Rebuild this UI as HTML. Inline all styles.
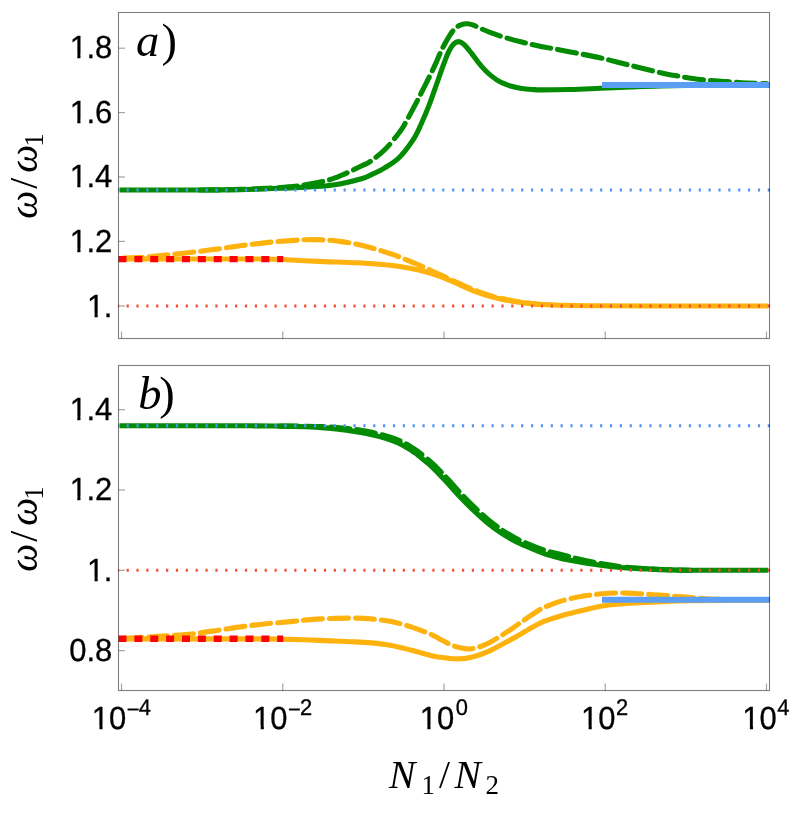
<!DOCTYPE html>
<html><head><meta charset="utf-8"><title>plot</title>
<style>html,body{margin:0;padding:0;background:#fff;}body{width:789px;height:814px;position:relative;overflow:hidden;font-family:"Liberation Sans",sans-serif;}</style>
</head><body>
<svg width="789" height="814" viewBox="0 0 789 814" style="position:absolute;left:0;top:0;will-change:transform">
<defs><clipPath id="ca"><rect x="118" y="12.5" width="652" height="326"/></clipPath><clipPath id="cb"><rect x="118" y="365.5" width="652" height="325"/></clipPath><clipPath id="cc"><rect x="119.5" y="0" width="648.8" height="814"/></clipPath></defs>
<g clip-path="url(#ca)">
<g clip-path="url(#cc)">
<path d="M118.50,190.00 C132.08,190.00 179.75,190.07 200.00,190.00 C220.25,189.93 230.00,189.77 240.00,189.60 C250.00,189.43 253.33,189.22 260.00,189.00 C266.67,188.78 273.23,188.57 280.00,188.30 C286.77,188.03 293.10,187.78 300.60,187.40 C308.10,187.02 318.27,186.62 325.00,186.00 C331.73,185.38 334.93,184.92 341.00,183.70 C347.07,182.48 356.57,180.10 361.40,178.70 C366.23,177.30 366.12,177.12 370.00,175.30 C373.88,173.48 379.78,170.82 384.70,167.80 C389.62,164.78 394.58,162.15 399.50,157.20 C404.42,152.25 410.53,143.75 414.20,138.10 C417.87,132.45 419.05,128.70 421.50,123.30 C423.95,117.90 426.43,112.08 428.90,105.70 C431.37,99.32 433.85,91.88 436.30,85.00 C438.75,78.12 441.53,69.97 443.60,64.40 C445.67,58.83 447.00,55.02 448.70,51.60 C450.40,48.18 452.12,45.57 453.80,43.90 C455.48,42.23 457.12,41.53 458.80,41.60 C460.48,41.67 461.87,42.47 463.90,44.30 C465.93,46.13 468.13,49.02 471.00,52.60 C473.87,56.18 477.72,61.92 481.10,65.80 C484.48,69.68 487.92,73.10 491.30,75.90 C494.68,78.70 498.02,80.87 501.40,82.60 C504.78,84.33 508.22,85.32 511.60,86.30 C514.98,87.28 518.33,87.97 521.70,88.50 C525.07,89.03 528.42,89.27 531.80,89.50 C535.18,89.73 535.63,89.90 542.00,89.90 C548.37,89.90 560.33,89.77 570.00,89.50 C579.67,89.23 589.83,88.72 600.00,88.30 C610.17,87.88 621.00,87.38 631.00,87.00 C641.00,86.62 648.50,86.27 660.00,86.00 C671.50,85.73 686.67,85.55 700.00,85.40 C713.33,85.25 728.42,85.17 740.00,85.10 C751.58,85.03 764.58,85.02 769.50,85.00" fill="none" stroke="#038b03" stroke-width="5.10" stroke-linejoin="round"/>
<path d="M200.00,190.00 C217.75,189.97 216.67,189.95 225.00,189.80 C233.33,189.65 241.67,189.42 250.00,189.10 C258.33,188.78 266.57,188.50 275.00,187.90 C283.43,187.30 292.27,186.65 300.60,185.50 C308.93,184.35 318.27,182.67 325.00,181.00 C331.73,179.33 334.93,178.00 341.00,175.50 C347.07,173.00 356.57,168.32 361.40,166.00 C366.23,163.68 366.12,164.30 370.00,161.60 C373.88,158.90 379.78,154.70 384.70,149.80 C389.62,144.90 395.82,137.10 399.50,132.20 C403.18,127.30 404.27,124.82 406.80,120.40 C409.33,115.98 412.12,110.62 414.70,105.70 C417.28,100.78 419.75,95.93 422.30,90.90 C424.85,85.87 427.72,80.17 430.00,75.50 C432.28,70.83 434.03,67.22 436.00,62.90 C437.97,58.58 439.53,54.15 441.80,49.60 C444.07,45.05 447.33,39.17 449.60,35.60 C451.87,32.03 453.40,30.03 455.40,28.20 C457.40,26.37 459.60,25.33 461.60,24.60 C463.60,23.87 465.43,23.70 467.40,23.80 C469.37,23.90 471.12,24.38 473.40,25.20 C475.68,26.02 478.12,27.42 481.10,28.70 C484.08,29.98 487.92,31.62 491.30,32.90 C494.68,34.18 498.02,35.32 501.40,36.40 C504.78,37.48 508.22,38.47 511.60,39.40 C514.98,40.33 518.33,41.15 521.70,42.00 C525.07,42.85 528.42,43.72 531.80,44.50 C535.18,45.28 538.62,46.05 542.00,46.70 C545.38,47.35 547.37,47.53 552.10,48.40 C556.83,49.27 562.28,50.30 570.40,51.90 C578.52,53.50 590.65,55.72 600.80,58.00 C610.95,60.28 621.15,63.10 631.30,65.60 C641.45,68.10 654.18,71.30 661.70,73.00 C669.22,74.70 671.23,74.87 676.40,75.80 C681.57,76.73 687.27,77.83 692.70,78.60 C698.13,79.37 703.55,79.90 709.00,80.40 C714.45,80.90 719.95,81.22 725.40,81.60 C730.85,81.98 736.27,82.38 741.70,82.70 C747.13,83.02 753.37,83.32 758.00,83.50 C762.63,83.68 767.58,83.75 769.50,83.80" fill="none" stroke="#038b03" stroke-width="5.10" stroke-dasharray="19 7" stroke-dashoffset="25.80" stroke-linecap="round" stroke-linejoin="round"/>
<path d="M118.50,259.00 C132.08,259.00 176.42,259.00 200.00,259.00 C223.58,259.00 246.90,258.95 260.00,259.00 C273.10,259.05 271.93,259.05 278.60,259.30 C285.27,259.55 292.40,260.12 300.00,260.50 C307.60,260.88 314.47,261.22 324.20,261.60 C333.93,261.98 346.98,262.15 358.40,262.80 C369.82,263.45 384.10,264.60 392.70,265.50 C401.30,266.40 405.40,267.38 410.00,268.20 C414.60,269.02 416.97,269.60 420.30,270.40 C423.63,271.20 426.62,271.97 430.00,273.00 C433.38,274.03 437.27,275.35 440.60,276.60 C443.93,277.85 446.62,279.03 450.00,280.50 C453.38,281.97 457.57,283.93 460.90,285.40 C464.23,286.87 466.63,287.93 470.00,289.30 C473.37,290.67 477.60,292.38 481.10,293.60 C484.60,294.82 487.62,295.67 491.00,296.60 C494.38,297.53 497.82,298.43 501.40,299.20 C504.98,299.97 509.12,300.63 512.50,301.20 C515.88,301.77 518.45,302.18 521.70,302.60 C524.95,303.02 528.62,303.38 532.00,303.70 C535.38,304.02 537.33,304.25 542.00,304.50 C546.67,304.75 550.33,304.98 560.00,305.20 C569.67,305.42 576.67,305.67 600.00,305.80 C623.33,305.93 671.75,305.97 700.00,306.00 C728.25,306.03 757.92,306.00 769.50,306.00" fill="none" stroke="#feb20e" stroke-width="5.10" stroke-linejoin="round"/>
<path d="M118.50,258.30 C123.08,258.08 137.38,257.62 146.00,257.00 C154.62,256.38 162.15,255.43 170.20,254.60 C178.25,253.77 186.27,252.95 194.30,252.00 C202.33,251.05 210.38,249.98 218.40,248.90 C226.42,247.82 234.38,246.55 242.40,245.50 C250.42,244.45 258.47,243.42 266.50,242.60 C274.53,241.78 283.83,241.08 290.60,240.60 C297.37,240.12 301.50,239.82 307.10,239.70 C312.70,239.58 318.50,239.58 324.20,239.90 C329.90,240.22 335.60,240.82 341.30,241.60 C347.00,242.38 352.68,243.35 358.40,244.60 C364.12,245.85 369.88,247.47 375.60,249.10 C381.32,250.73 388.63,253.05 392.70,254.40 C396.77,255.75 397.10,256.05 400.00,257.20 C402.90,258.35 406.72,259.90 410.10,261.30 C413.48,262.70 416.92,264.12 420.30,265.60 C423.68,267.08 427.02,268.65 430.40,270.20 C433.78,271.75 437.22,273.33 440.60,274.90 C443.98,276.47 447.32,278.05 450.70,279.60 C454.08,281.15 457.68,282.77 460.90,284.20 C464.12,285.63 466.63,286.78 470.00,288.20 C473.37,289.62 477.60,291.42 481.10,292.70 C484.60,293.98 487.62,294.93 491.00,295.90 C494.38,296.87 497.82,297.68 501.40,298.50 C504.98,299.32 509.12,300.17 512.50,300.80 C515.88,301.43 518.45,301.85 521.70,302.30 C524.95,302.75 528.62,303.15 532.00,303.50 C535.38,303.85 537.33,304.12 542.00,304.40" fill="none" stroke="#feb20e" stroke-width="5.10" stroke-dasharray="19 7" stroke-dashoffset="21.50" stroke-linecap="round" stroke-linejoin="round"/>
</g>
<line x1="118.5" y1="259.15" x2="283.2" y2="259.15" stroke="#fd0202" stroke-width="6.3" stroke-dasharray="8 7.87"/>
<line x1="602" y1="85" x2="770" y2="85" stroke="#5b9ef5" stroke-width="6"/>
<line x1="116.70" y1="190.00" x2="770.00" y2="190.00" stroke="#4f94f5" stroke-width="3" stroke-dasharray="2.2 7.664"/>
<line x1="116.70" y1="306.00" x2="770.00" y2="306.00" stroke="#fb4a32" stroke-width="3" stroke-dasharray="2.2 7.664"/>
</g>
<g clip-path="url(#cb)">
<g clip-path="url(#cc)">
<path d="M118.50,425.70 C132.08,425.70 178.08,425.68 200.00,425.70 C221.92,425.72 236.67,425.73 250.00,425.80 C263.33,425.87 270.78,425.93 280.00,426.10 C289.22,426.27 297.80,426.51 305.29,426.81 C312.79,427.11 319.19,427.48 324.96,427.91 C330.73,428.35 335.32,428.91 339.91,429.44 C344.51,429.97 348.36,430.47 352.56,431.11 C356.75,431.75 360.90,432.44 365.09,433.28 C369.28,434.12 373.51,435.04 377.71,436.14 C381.91,437.24 386.10,438.38 390.28,439.89 C394.46,441.40 398.63,443.01 402.78,445.19 C406.94,447.38 412.50,451.18 415.22,452.99 C417.94,454.80 417.00,454.34 419.09,456.03 C421.18,457.72 425.53,461.20 427.76,463.10 C429.99,465.01 430.62,465.62 432.49,467.44 C434.36,469.26 436.72,471.70 438.96,474.01 C441.20,476.32 442.52,477.59 445.93,481.28 C449.35,484.98 454.92,491.42 459.45,496.20 C463.97,500.97 468.56,505.61 473.10,509.95 C477.64,514.29 482.14,518.48 486.68,522.22 C491.21,525.96 495.75,529.34 500.29,532.40 C504.83,535.46 510.24,538.55 513.90,540.57 C517.56,542.59 517.29,542.40 522.23,544.54 C527.18,546.67 537.21,551.11 543.56,553.38 C549.91,555.65 554.98,556.85 560.34,558.15 C565.69,559.46 569.31,560.07 575.71,561.20 C582.12,562.32 591.39,563.88 598.77,564.92 C606.14,565.96 613.02,566.81 619.96,567.42 C626.89,568.03 632.77,568.22 640.39,568.60 C648.02,568.98 657.28,569.43 665.70,569.70 C674.12,569.97 673.60,570.10 690.90,570.20 C708.20,570.30 756.40,570.28 769.50,570.30" fill="none" stroke="#038b03" stroke-width="5.10" stroke-linejoin="round"/>
<path d="M280.00,426.10 C289.22,426.16 297.80,426.09 305.31,426.19 C312.81,426.29 319.24,426.42 325.04,426.69 C330.83,426.95 335.45,427.36 340.09,427.76 C344.72,428.16 348.61,428.53 352.84,429.09 C357.08,429.65 361.27,430.33 365.51,431.12 C369.75,431.92 374.02,432.79 378.29,433.86 C382.56,434.92 386.83,436.02 391.12,437.51 C395.41,439.00 399.74,440.62 404.02,442.81 C408.29,444.99 413.97,448.78 416.78,450.61 C419.60,452.44 418.76,452.06 420.91,453.77 C423.05,455.48 427.37,458.96 429.64,460.90 C431.91,462.83 432.61,463.51 434.51,465.36 C436.41,467.21 438.78,469.66 441.04,471.99 C443.30,474.32 444.65,475.61 448.07,479.32 C451.48,483.02 457.05,489.45 461.55,494.20 C466.06,498.96 470.61,503.56 475.10,507.85 C479.60,512.15 484.06,516.29 488.52,519.98 C492.99,523.67 497.45,526.99 501.91,530.00 C506.37,533.01 511.73,536.05 515.30,538.03 C518.88,540.01 518.48,539.83 523.37,541.86 C528.26,543.90 538.33,548.13 544.64,550.22 C550.96,552.32 555.99,553.08 561.26,554.45 C566.54,555.81 569.99,556.93 576.29,558.40 C582.58,559.88 591.74,561.92 599.03,563.28 C606.33,564.64 613.15,565.73 620.04,566.58 C626.94,567.43 632.80,567.88 640.41,568.40 C648.02,568.92 657.28,569.40 665.70,569.70 C674.12,570.00 673.60,570.10 690.90,570.20" fill="none" stroke="#038b03" stroke-width="5.10" stroke-dasharray="19 7" stroke-dashoffset="1.20" stroke-linecap="round" stroke-linejoin="round"/>
<path d="M118.50,638.90 C132.08,638.90 175.42,638.90 200.00,638.90 C224.58,638.90 251.00,638.82 266.00,638.90 C281.00,638.98 282.62,639.22 290.00,639.40 C297.38,639.58 303.53,639.75 310.30,640.00 C317.07,640.25 323.83,640.62 330.60,640.90 C337.37,641.18 344.15,641.37 350.90,641.70 C357.65,642.03 364.35,642.27 371.10,642.90 C377.85,643.53 384.63,644.27 391.40,645.50 C398.17,646.73 404.93,648.58 411.70,650.30 C418.47,652.02 427.28,654.65 432.00,655.80 C436.72,656.95 436.98,656.75 440.00,657.20 C443.02,657.65 446.72,658.23 450.10,658.50 C453.48,658.77 456.92,658.97 460.30,658.80 C463.68,658.63 467.02,658.22 470.40,657.50 C473.78,656.78 477.22,655.68 480.60,654.50 C483.98,653.32 487.32,651.97 490.70,650.40 C494.08,648.83 497.52,646.90 500.90,645.10 C504.28,643.30 508.15,641.18 511.00,639.60 C513.85,638.02 515.67,636.95 518.00,635.60 C520.33,634.25 522.78,632.80 525.00,631.50 C527.22,630.20 529.17,629.02 531.30,627.80 C533.43,626.58 535.70,625.28 537.80,624.20 C539.90,623.12 541.37,622.28 543.90,621.30 C546.43,620.32 550.22,619.18 553.00,618.30 C555.78,617.42 558.07,616.75 560.60,616.00 C563.13,615.25 565.80,614.45 568.20,613.80 C570.60,613.15 572.70,612.65 575.00,612.10 C577.30,611.55 579.43,611.10 582.00,610.50 C584.57,609.90 587.30,609.20 590.40,608.50 C593.50,607.80 597.22,606.92 600.60,606.30 C603.98,605.68 607.32,605.20 610.70,604.80 C614.08,604.40 617.52,604.17 620.90,603.90 C624.28,603.63 627.75,603.40 631.00,603.20 C634.25,603.00 634.62,602.98 640.40,602.70 C646.18,602.42 657.28,601.82 665.70,601.50 C674.12,601.18 673.60,601.00 690.90,600.80 C708.20,600.60 756.40,600.38 769.50,600.30" fill="none" stroke="#feb20e" stroke-width="5.10" stroke-linejoin="round"/>
<path d="M118.50,638.40 C123.10,638.20 137.48,637.65 146.10,637.20 C154.72,636.75 162.17,636.30 170.20,635.70 C178.23,635.10 186.27,634.52 194.30,633.60 C202.33,632.68 210.38,631.37 218.40,630.20 C226.42,629.03 234.38,627.68 242.40,626.60 C250.42,625.52 258.47,624.53 266.50,623.70 C274.53,622.87 283.30,622.28 290.60,621.60 C297.90,620.92 303.63,620.12 310.30,619.60 C316.97,619.08 323.83,618.75 330.60,618.50 C337.37,618.25 344.15,618.03 350.90,618.10 C357.65,618.17 364.35,618.32 371.10,618.90 C377.85,619.48 384.63,620.23 391.40,621.60 C398.17,622.97 404.93,624.90 411.70,627.10 C418.47,629.30 427.28,632.78 432.00,634.80 C436.72,636.82 436.98,637.62 440.00,639.20 C443.02,640.78 446.72,642.87 450.10,644.30 C453.48,645.73 456.92,647.03 460.30,647.80 C463.68,648.57 467.02,649.12 470.40,648.90 C473.78,648.68 477.22,647.67 480.60,646.50 C483.98,645.33 487.32,643.68 490.70,641.90 C494.08,640.12 497.52,637.90 500.90,635.80 C504.28,633.70 507.63,631.57 511.00,629.30 C514.37,627.03 517.72,624.57 521.10,622.20 C524.48,619.83 527.92,617.33 531.30,615.10 C534.68,612.87 538.02,610.60 541.40,608.80 C544.78,607.00 548.22,605.62 551.60,604.30 C554.98,602.98 558.33,601.90 561.70,600.90 C565.07,599.90 568.42,599.08 571.80,598.30 C575.18,597.52 578.62,596.77 582.00,596.20 C585.38,595.63 588.67,595.32 592.10,594.90 C595.53,594.48 598.75,594.02 602.60,593.70 C606.45,593.38 611.00,593.10 615.20,593.00 C619.40,592.90 623.60,592.97 627.80,593.10 C632.00,593.23 636.20,593.53 640.40,593.80 C644.60,594.07 648.78,594.42 653.00,594.70 C657.22,594.98 661.48,595.20 665.70,595.50 C669.92,595.80 674.10,596.15 678.30,596.50 C682.50,596.85 687.28,597.28 690.90,597.60 C694.52,597.92 695.98,598.12 700.00,598.40 C704.02,598.68 708.33,599.08 715.00,599.30 C721.67,599.52 730.92,599.60 740.00,599.70 C749.08,599.80 764.58,599.87 769.50,599.90" fill="none" stroke="#feb20e" stroke-width="5.10" stroke-dasharray="19 7" stroke-dashoffset="22.00" stroke-linecap="round" stroke-linejoin="round"/>
</g>
<line x1="118.5" y1="638.75" x2="283.2" y2="638.75" stroke="#fd0202" stroke-width="6.3" stroke-dasharray="8 7.87"/>
<line x1="602" y1="599.8" x2="770" y2="599.8" stroke="#5b9ef5" stroke-width="6"/>
<line x1="116.70" y1="425.70" x2="770.00" y2="425.70" stroke="#4f94f5" stroke-width="3" stroke-dasharray="2.2 7.664"/>
<line x1="116.70" y1="570.30" x2="770.00" y2="570.30" stroke="#fb4a32" stroke-width="3" stroke-dasharray="2.2 7.664"/>
</g>
<line x1="121.50" y1="338.50" x2="121.50" y2="331.50" stroke="#a4a4a4" stroke-width="1.2"/>
<line x1="121.50" y1="690.50" x2="121.50" y2="683.50" stroke="#a4a4a4" stroke-width="1.2"/>
<line x1="282.75" y1="338.50" x2="282.75" y2="331.50" stroke="#a4a4a4" stroke-width="1.2"/>
<line x1="282.75" y1="690.50" x2="282.75" y2="683.50" stroke="#a4a4a4" stroke-width="1.2"/>
<line x1="444.00" y1="338.50" x2="444.00" y2="331.50" stroke="#a4a4a4" stroke-width="1.2"/>
<line x1="444.00" y1="690.50" x2="444.00" y2="683.50" stroke="#a4a4a4" stroke-width="1.2"/>
<line x1="605.25" y1="338.50" x2="605.25" y2="331.50" stroke="#a4a4a4" stroke-width="1.2"/>
<line x1="605.25" y1="690.50" x2="605.25" y2="683.50" stroke="#a4a4a4" stroke-width="1.2"/>
<line x1="766.50" y1="338.50" x2="766.50" y2="331.50" stroke="#a4a4a4" stroke-width="1.2"/>
<line x1="766.50" y1="690.50" x2="766.50" y2="683.50" stroke="#a4a4a4" stroke-width="1.2"/>
<line x1="118.50" y1="48.20" x2="125.00" y2="48.20" stroke="#a4a4a4" stroke-width="1.2"/>
<line x1="118.50" y1="112.60" x2="125.00" y2="112.60" stroke="#a4a4a4" stroke-width="1.2"/>
<line x1="118.50" y1="177.00" x2="125.00" y2="177.00" stroke="#a4a4a4" stroke-width="1.2"/>
<line x1="118.50" y1="241.40" x2="125.00" y2="241.40" stroke="#a4a4a4" stroke-width="1.2"/>
<line x1="118.50" y1="306.00" x2="125.00" y2="306.00" stroke="#a4a4a4" stroke-width="1.2"/>
<line x1="118.50" y1="409.70" x2="125.00" y2="409.70" stroke="#a4a4a4" stroke-width="1.2"/>
<line x1="118.50" y1="490.00" x2="125.00" y2="490.00" stroke="#a4a4a4" stroke-width="1.2"/>
<line x1="118.50" y1="570.30" x2="125.00" y2="570.30" stroke="#a4a4a4" stroke-width="1.2"/>
<line x1="118.50" y1="650.60" x2="125.00" y2="650.60" stroke="#a4a4a4" stroke-width="1.2"/>
<rect x="118.5" y="12.5" width="651.0" height="326.0" fill="none" stroke="#000" stroke-opacity="0.5" stroke-width="1.1"/>
<rect x="118.5" y="365.5" width="651.0" height="325.0" fill="none" stroke="#000" stroke-opacity="0.5" stroke-width="1.1"/>
<text transform="translate(69.20,58.00) scale(1,1.031)" font-family="Liberation Sans, sans-serif" text-rendering="geometricPrecision" stroke="#000" stroke-width="0.3" font-size="31" fill="#000"><tspan dx="0.5">1</tspan><tspan dx="-0.5">.8</tspan></text>
<rect x="70.30" y="54.52" width="7.00" height="4.88" fill="#fff"/><rect x="80.48" y="54.52" width="5.97" height="4.88" fill="#fff"/>
<text transform="translate(69.20,123.00) scale(1,1.031)" font-family="Liberation Sans, sans-serif" text-rendering="geometricPrecision" stroke="#000" stroke-width="0.3" font-size="31" fill="#000"><tspan dx="0.5">1</tspan><tspan dx="-0.5">.6</tspan></text>
<rect x="70.30" y="119.52" width="7.00" height="4.88" fill="#fff"/><rect x="80.48" y="119.52" width="5.97" height="4.88" fill="#fff"/>
<text transform="translate(69.20,187.00) scale(1,1.031)" font-family="Liberation Sans, sans-serif" text-rendering="geometricPrecision" stroke="#000" stroke-width="0.3" font-size="31" fill="#000"><tspan dx="0.5">1</tspan><tspan dx="-0.5">.4</tspan></text>
<rect x="70.30" y="183.52" width="7.00" height="4.88" fill="#fff"/><rect x="80.48" y="183.52" width="5.97" height="4.88" fill="#fff"/>
<text transform="translate(69.20,252.00) scale(1,1.031)" font-family="Liberation Sans, sans-serif" text-rendering="geometricPrecision" stroke="#000" stroke-width="0.3" font-size="31" fill="#000"><tspan dx="0.5">1</tspan><tspan dx="-0.5">.2</tspan></text>
<rect x="70.30" y="248.52" width="7.00" height="4.88" fill="#fff"/><rect x="80.48" y="248.52" width="5.97" height="4.88" fill="#fff"/>
<text transform="translate(86.44,317.00) scale(1,1.031)" font-family="Liberation Sans, sans-serif" text-rendering="geometricPrecision" stroke="#000" stroke-width="0.3" font-size="31" fill="#000"><tspan dx="0.5">1</tspan><tspan dx="-0.5">.</tspan></text>
<rect x="87.54" y="313.52" width="7.00" height="4.88" fill="#fff"/><rect x="97.72" y="313.52" width="5.97" height="4.88" fill="#fff"/>
<text transform="translate(69.20,420.00) scale(1,1.031)" font-family="Liberation Sans, sans-serif" text-rendering="geometricPrecision" stroke="#000" stroke-width="0.3" font-size="31" fill="#000"><tspan dx="0.5">1</tspan><tspan dx="-0.5">.4</tspan></text>
<rect x="70.30" y="416.52" width="7.00" height="4.88" fill="#fff"/><rect x="80.48" y="416.52" width="5.97" height="4.88" fill="#fff"/>
<text transform="translate(69.20,500.00) scale(1,1.031)" font-family="Liberation Sans, sans-serif" text-rendering="geometricPrecision" stroke="#000" stroke-width="0.3" font-size="31" fill="#000"><tspan dx="0.5">1</tspan><tspan dx="-0.5">.2</tspan></text>
<rect x="70.30" y="496.52" width="7.00" height="4.88" fill="#fff"/><rect x="80.48" y="496.52" width="5.97" height="4.88" fill="#fff"/>
<text transform="translate(86.44,581.00) scale(1,1.031)" font-family="Liberation Sans, sans-serif" text-rendering="geometricPrecision" stroke="#000" stroke-width="0.3" font-size="31" fill="#000"><tspan dx="0.5">1</tspan><tspan dx="-0.5">.</tspan></text>
<rect x="87.54" y="577.52" width="7.00" height="4.88" fill="#fff"/><rect x="97.72" y="577.52" width="5.97" height="4.88" fill="#fff"/>
<text transform="translate(69.20,661.00) scale(1,1.031)" font-family="Liberation Sans, sans-serif" text-rendering="geometricPrecision" stroke="#000" stroke-width="0.3" font-size="31" fill="#000">0.8</text>
<text transform="translate(91.82,729.00) scale(1,1.031)" font-family="Liberation Sans, sans-serif" text-rendering="geometricPrecision" stroke="#000" stroke-width="0.3" font-size="31" fill="#000"><tspan x="0" y="0">10</tspan><tspan x="34.9" y="-11.54" font-size="21.9">−</tspan><tspan x="46.95" y="-13.77" font-size="21.9">4</tspan></text>
<rect x="92.42" y="725.52" width="7.00" height="4.88" fill="#fff"/><rect x="102.60" y="725.52" width="5.97" height="4.88" fill="#fff"/>
<text transform="translate(253.08,729.00) scale(1,1.031)" font-family="Liberation Sans, sans-serif" text-rendering="geometricPrecision" stroke="#000" stroke-width="0.3" font-size="31" fill="#000"><tspan x="0" y="0">10</tspan><tspan x="34.9" y="-11.54" font-size="21.9">−</tspan><tspan x="46.95" y="-13.77" font-size="21.9">2</tspan></text>
<rect x="253.68" y="725.52" width="7.00" height="4.88" fill="#fff"/><rect x="263.86" y="725.52" width="5.97" height="4.88" fill="#fff"/>
<text transform="translate(419.75,729.00) scale(1,1.031)" font-family="Liberation Sans, sans-serif" text-rendering="geometricPrecision" stroke="#000" stroke-width="0.3" font-size="31" fill="#000"><tspan x="0" y="0">10</tspan><tspan x="35.90" y="-13.77" font-size="21.9">0</tspan></text>
<rect x="420.35" y="725.52" width="7.00" height="4.88" fill="#fff"/><rect x="430.53" y="725.52" width="5.97" height="4.88" fill="#fff"/>
<text transform="translate(581.00,729.00) scale(1,1.031)" font-family="Liberation Sans, sans-serif" text-rendering="geometricPrecision" stroke="#000" stroke-width="0.3" font-size="31" fill="#000"><tspan x="0" y="0">10</tspan><tspan x="35.00" y="-13.77" font-size="21.9">2</tspan></text>
<rect x="581.60" y="725.52" width="7.00" height="4.88" fill="#fff"/><rect x="591.78" y="725.52" width="5.97" height="4.88" fill="#fff"/>
<text transform="translate(742.25,729.00) scale(1,1.031)" font-family="Liberation Sans, sans-serif" text-rendering="geometricPrecision" stroke="#000" stroke-width="0.3" font-size="31" fill="#000"><tspan x="0" y="0">10</tspan><tspan x="35.00" y="-13.77" font-size="21.9">4</tspan></text>
<rect x="742.85" y="725.52" width="7.00" height="4.88" fill="#fff"/><rect x="753.03" y="725.52" width="5.97" height="4.88" fill="#fff"/>
<text font-family="'Liberation Serif', serif" font-size="46.5" fill="#000"><tspan x="136.05" y="56.2" font-style="italic">a</tspan><tspan x="161.5" y="56.2">)</tspan></text>
<text font-family="'Liberation Serif', serif" font-size="46.5" fill="#000"><tspan x="138.3" y="409" font-style="italic">b</tspan><tspan x="159.3" y="409">)</tspan></text>
<text transform="translate(36.60,218.70) rotate(-90)" font-family="'Liberation Serif', serif" font-size="39.5" fill="#000"><tspan x="0" y="0" font-style="italic">ω</tspan><tspan x="30" y="0">/</tspan><tspan x="45.9" y="0" font-style="italic">ω</tspan><tspan x="72" y="6" font-size="27">1</tspan></text>
<text transform="translate(36.60,571.70) rotate(-90)" font-family="'Liberation Serif', serif" font-size="39.5" fill="#000"><tspan x="0" y="0" font-style="italic">ω</tspan><tspan x="30" y="0">/</tspan><tspan x="45.9" y="0" font-style="italic">ω</tspan><tspan x="72" y="6" font-size="27">1</tspan></text>
<text font-family="'Liberation Serif', serif" font-size="39.5" fill="#000"><tspan x="389" y="787.6" font-style="italic">N</tspan><tspan x="421.5" y="793.6" font-size="27">1</tspan><tspan x="439" y="787.6">/</tspan><tspan x="454.5" y="787.6" font-style="italic">N</tspan><tspan x="485.5" y="793.6" font-size="27">2</tspan></text>
</svg>
</body></html>
